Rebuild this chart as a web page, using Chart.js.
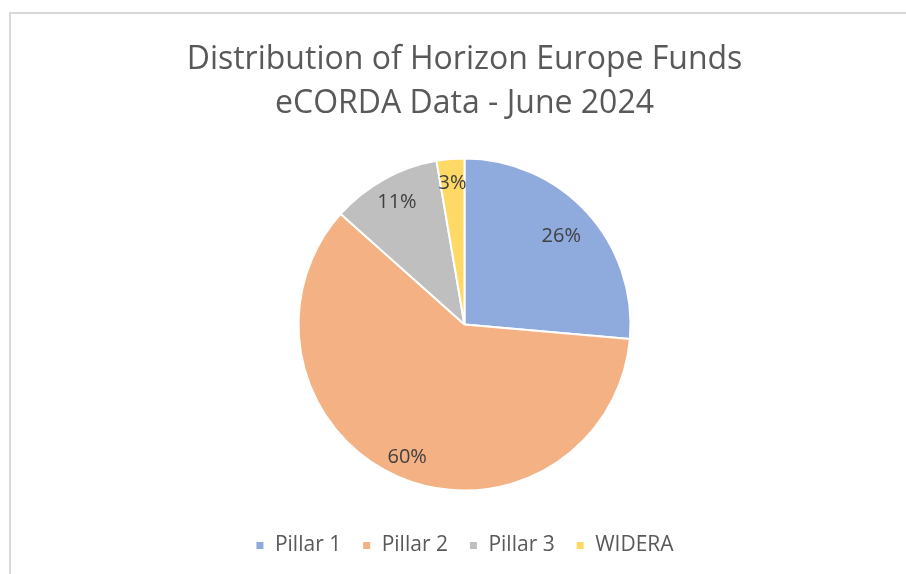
<!DOCTYPE html>
<html>
<head>
<meta charset="utf-8">
<script src="https://cdn.jsdelivr.net/npm/chart.js@4.4.1/dist/chart.umd.min.js"></script>
<style>
  html, body { margin: 0; padding: 0; background: #ffffff; overflow: hidden; }
  #wrap { position: relative; width: 906px; height: 574px; overflow: hidden; }
  #frame { position: absolute; left: 9px; top: 12px; width: 1000px; height: 1000px;
           border-left: 2px solid #d9d9d9; border-top: 2px solid #d9d9d9; }
  #c { position: absolute; left: 0; top: 0; }
</style>
</head>
<body>
<div id="wrap">
  <div id="frame"></div>
  <canvas id="c" width="906" height="574"></canvas>
</div>
<script>
const titleLines = ['Distribution of Horizon Europe Funds', 'eCORDA Data - June 2024'];
const categories = ['Pillar 1', 'Pillar 2', 'Pillar 3', 'WIDERA'];
const shares = [26.4, 60.2, 10.7, 2.7];
const sliceColors = ['#8faadc', '#f4b183', '#bfbfbf', '#ffd966'];

const FONT = "'Open Sans', 'Liberation Sans', sans-serif";

const labelRadius = [0.79, 0.87, 0.84, 0.855];

const pieLabels = {
  id: 'pieLabels',
  afterDatasetsDraw(chart) {
    const ctx = chart.ctx;
    const meta = chart.getDatasetMeta(0);
    const data = chart.data.datasets[0].data;
    const total = data.reduce((a, b) => a + b, 0);
    ctx.save();
    ctx.font = '20px ' + FONT;
    ctx.fillStyle = '#404040';
    ctx.textAlign = 'center';
    ctx.textBaseline = 'middle';
    meta.data.forEach((arc, i) => {
      const p = arc.getProps(['x', 'y', 'startAngle', 'endAngle', 'outerRadius'], true);
      const mid = (p.startAngle + p.endAngle) / 2;
      const r = p.outerRadius * labelRadius[i];
      const x = p.x + Math.cos(mid) * r;
      const y = p.y + Math.sin(mid) * r;
      ctx.fillText(Math.round(data[i] / total * 100) + '%', x, y);
    });
    ctx.restore();
  }
};

new Chart(document.getElementById('c'), {
  type: 'pie',
  data: {
    labels: categories,
    datasets: [{
      data: shares,
      backgroundColor: sliceColors,
      borderColor: '#ffffff',
      borderWidth: 2,
      radius: 166
    }]
  },
  options: {
    responsive: false,
    animation: false,
    layout: { padding: { left: 23, right: 0, top: 0, bottom: 8 } },
    plugins: {
      title: {
        display: true,
        text: titleLines,
        color: '#595959',
        font: { family: FONT, size: 32, weight: 'normal', lineHeight: 44 / 32 },
        padding: { top: 38, bottom: 9 }
      },
      legend: {
        display: true,
        position: 'bottom',
        labels: {
          color: '#595959',
          font: { family: FONT, size: 21 },
          boxWidth: 9,
          boxHeight: 9,
          padding: 21
        }
      },
      tooltip: { enabled: false }
    }
  },
  plugins: [pieLabels]
});
</script>
</body>
</html>
